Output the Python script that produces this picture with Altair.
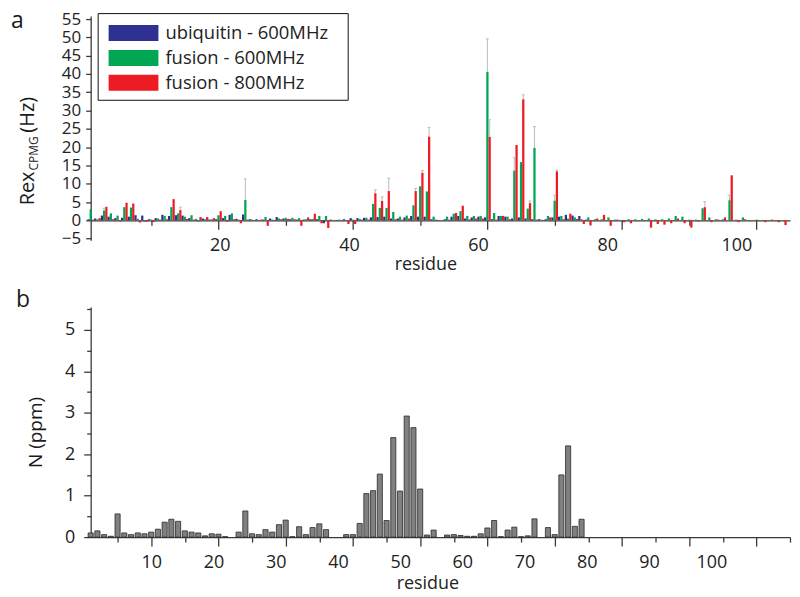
import altair as alt
import pandas as pd

FONT = "Open Sans"

series_names = ["ubiquitin - 600MHz", "fusion - 600MHz", "fusion - 800MHz"]
series_colors = ["#2E3192", "#00A651", "#ED1C24"]

residues_top = list(range(1, 105))
ubq_600 = [0.3, 0.5, 1.3, 1.0, 0.6, 0.7, 1.0, 1.4, 1.3, 0.3,
           0.6, 1.5, 1.2, 1.4, 1.3, 0.6, 0.3, 0.5, 0.2, 0.3,
           0.6, 1.5, 0.4, 1.6, 0.3, 0.3, 0.2, 0.5, 0.9, 0.5,
           0.3, 0.2, 0.2, 0.3, 0.3, -0.8, 0.2, 0.1, 0.3, 0.6,
           0.6, 0.7, 0.8, 0.9, 1.0, 0.5, 0.5, 0.8, 1.2, 1.0,
           1.0, 0.3, 0.1, 0.3, 1.0, 1.2, 0.5, 0.8, 1.0, 0.8,
           0.3, 1.2, 1.0, 0.5, 0.8, 0.5, 0.3, 0.3, 0.3, 0.8,
           1.0, 1.5, 1.3, 1.2, 0.2] + [None] * 29
fus_600 = [3.0, 0.3, 2.7, 1.9, 1.3, 3.6, 3.5, 0.4, -0.4, 0.2,
           0.5, 1.2, 3.6, 1.9, 1.0, 1.4, -0.4, 0.3, 0.3, 1.4,
           1.2, 1.9, 0.2, 5.6, 0.2, 0.1, 0.9, 0.2, 0.5, 0.7,
           0.7, 0.6, 0.3, 0.4, 1.2, 1.2, 0.1, 0.2, 0.1, 0.2,
           0.4, 0.7, 4.5, 3.4, 3.4, 2.3, 1.0, 1.3, 4.1, 9.3,
           7.9, 1.0, 0.1, 1.0, 1.8, 2.5, 1.2, 1.2, 1.2, 40.6,
           2.0, 1.2, 1.0, 13.6, 15.9, 3.2, 19.8, 0.2, 1.2, 5.4,
           1.2, 0.5, 0.8, 0.3, 0.8, 0.3, 0.3, 0.8, 0.2, 0.1,
           0.3, 0.3, 0.4, 0.5, 0.3, 0.3, 0.5, 1.2, 1.0, 0.2,
           0.2, 3.3, 0.8, 0.3, 0.3, 5.5, 0.2, 0.8, 0.1, 0.2,
           0.1, 0.1, 0.1, 0.1]
fus_800 = [0.2, 0.6, 3.7, 0.3, -0.3, 4.8, 4.6, -0.6, -0.4, -0.5,
           0.2, 0.3, 5.8, 2.8, 0.4, 0.2, 0.9, 0.9, 0.6, 2.5,
           -0.4, 0.3, -0.8, 0.2, 0.1, 0.2, -1.5, 0.1, 0.3, 0.4,
           0.3, -1.5, 0.8, 1.8, -0.8, -2.1, 0.1, 0.1, -1.0, -1.0,
           0.2, 0.2, 7.4, 5.3, 8.0, 0.3, 0.2, 0.5, 8.0, 13.0,
           22.9, 0.2, 0.1, 0.2, 2.0, 4.0, 0.3, 0.5, 0.5, 22.8,
           0.2, 1.2, 0.3, 20.6, 33.1, 4.7, 0.2, 0.1, 0.8, 13.4,
           0.3, 1.8, 0.4, -1.0, -1.4, 0.5, 1.5, -1.5, 0.2, -0.5,
           -0.8, 0.1, 0.1, -2.0, -1.0, -1.2, -0.8, 0.5, -0.8, -2.0,
           -0.3, 3.6, -0.5, 0.2, 0.8, 12.3, -0.5, 0.3, 0.1, 0.1,
           -0.5, 0.2, -0.5, -1.3]

# error bars (series index, residue, top of error bar)
err_series = [1, 2, 1, 2, 2, 2, 2, 2, 2, 1, 2, 1, 2, 2, 1, 1, 2, 2, 1]
err_residue = [3, 14, 24, 43, 44, 45, 49, 50, 51, 60, 60, 64, 65, 66, 67, 70, 70, 92, 96]
err_top = [3.3, 3.6, 11.3, 8.3, 6.4, 11.5, 8.7, 13.6, 25.4, 49.6, 27.5, 17.2, 34.3, 5.3, 25.6, 6.9, 13.7, 5.1, 6.9]

top_tick_values = list(range(10, 101, 10))
top_label_values = [20, 40, 60, 80, 100]
top_y_values = list(range(-5, 56, 5))

residues_bottom = list(range(1, 75))
n_shift = [0.10, 0.15, 0.06, 0.02, 0.56, 0.10, 0.06, 0.10, 0.08, 0.12,
           0.19, 0.36, 0.43, 0.38, 0.15, 0.12, 0.10, 0.03, 0.08, 0.07,
           0.01, None, 0.12, 0.63, 0.08, 0.06, 0.18, 0.12, 0.30, 0.41,
           0.01, 0.25, 0.06, 0.23, 0.32, 0.18, None, None, 0.06, 0.06,
           0.33, 1.05, 1.12, 1.52, 0.40, 2.40, 1.11, 2.92, 2.64, 1.16,
           0.05, 0.17, None, 0.05, 0.06, 0.04, 0.02, 0.02, 0.08, 0.22,
           0.40, 0.01, 0.17, 0.24, 0.01, 0.03, 0.44, None, 0.23, 0.06,
           1.50, 2.20, 0.26, 0.43]
bottom_tick_values = list(range(5, 106, 5))
bottom_label_values = list(range(10, 101, 10))
bottom_y_major = [0, 1, 2, 3, 4, 5]
bottom_y_minor = [0.5, 1.5, 2.5, 3.5, 4.5, 5.5]

# ---------- data tables ----------
all_series = [ubq_600, fus_600, fus_800]
GROUP = 0.333
HALF = 0.167
rows = []
for si, (name, vals) in enumerate(zip(series_names, all_series)):
    off = (si - 1) * GROUP
    for r, v in zip(residues_top, vals):
        if v is None:
            continue
        rows.append({"series": name, "residue": r, "value": v,
                     "x0": r + off - HALF, "x1": r + off + HALF})
top_df = pd.DataFrame(rows)

erows = []
for si, r, t in zip(err_series, err_residue, err_top):
    off = (si - 1) * GROUP
    v = all_series[si][r - 1]
    erows.append({"xc": r + off, "ca": r + off - 0.22, "cb": r + off + 0.22,
                  "v": v, "top": t})
err_df = pd.DataFrame(erows)

brows = []
for r, v in zip(residues_bottom, n_shift):
    if v is None:
        continue
    brows.append({"residue": r, "shift": v, "x0": r - 0.38, "x1": r + 0.38})
bottom_df = pd.DataFrame(brows)

# ---------- top panel ----------
x_top = alt.Scale(domain=[1, 105], nice=False, zero=False)
y_top = alt.Scale(domain=[-5.44, 55.82], nice=False, zero=False)

top_tick_axis = alt.Axis(
    values=top_tick_values, labels=False, title=None, grid=False, offset=-20,
    tickSize={"condition": {"test": "datum.value % 20 === 0", "value": 9}, "value": 5},
)
top_y_axis = alt.Axis(values=top_y_values, format="d", tickSize=5, labelPadding=5,
                      labelFontSize=17, title=None, grid=False,
                      labelOverlap=False, labelFlush=False)

legend = alt.Legend(
    title="\u00a0", titleOrient="right", titleFontSize=2, titlePadding=12,
    orient="none", legendX=7, legendY=-3,
    symbolType="M-0.72,-0.64L3.28,-0.64L3.28,0.64L-0.72,0.64Z",
    symbolSize=625, symbolStrokeWidth=0, symbolOpacity=1,
    labelFontSize=18.5, labelFont=FONT, labelColor="#222", labelOffset=35.5,
    padding=7.5, strokeColor="#111", fillColor="white", rowPadding=3, labelLimit=400,
)

bars = alt.Chart(top_df).mark_bar(strokeWidth=0).encode(
    x=alt.X("x0:Q", scale=x_top, axis=top_tick_axis),
    x2="x1:Q",
    y=alt.Y("value:Q", scale=y_top, axis=top_y_axis),
    y2=alt.datum(0),
    color=alt.Color("series:N", scale=alt.Scale(domain=series_names, range=series_colors),
                    legend=legend),
)

err_rules = alt.Chart(err_df).mark_rule(color="#b5b5b5", strokeWidth=0.9).encode(
    x=alt.X("xc:Q", scale=x_top, axis=top_tick_axis),
    y=alt.Y("v:Q", scale=y_top, axis=top_y_axis), y2="top:Q")
err_caps = alt.Chart(err_df).mark_rule(color="#b5b5b5", strokeWidth=0.9).encode(
    x=alt.X("ca:Q", scale=x_top, axis=top_tick_axis), x2="cb:Q",
    y=alt.Y("top:Q", scale=y_top, axis=top_y_axis))

def txt(s, x, y, size, angle=0, baseline="alphabetic", align="left"):
    return alt.Chart(pd.DataFrame({"t": [s]})).mark_text(
        align=align, baseline=baseline, fontSize=size, font=FONT, color="#1a1a1a",
        angle=angle,
    ).encode(x=alt.value(x), y=alt.value(y), text="t:N")

top_inner = alt.layer(
    bars, err_rules, err_caps,
    txt("a", -80, 12, 23),
    txt("Rex", -57, 190, 20, angle=270),
    txt("CPMG", -53, 155, 12, angle=270),
    txt("(Hz)", -57, 117, 20, angle=270),
)

top_labels = alt.Chart(pd.DataFrame({"lab": top_label_values})).mark_point(opacity=0).encode(
    x=alt.X("lab:Q", scale=alt.Scale(domain=[0, 108.3], nice=False, zero=False),
            axis=alt.Axis(values=top_label_values, format="d", ticks=False, tickSize=0,
                          domain=False, grid=False, labelPadding=16, offset=-20,
                          labelFlush=False, labelOverlap=False,
                          title="residue", titlePadding=1, titleX=336, orient="bottom")),
    y=alt.value(0),
)

top = alt.layer(top_inner, top_labels).resolve_scale(x="independent").properties(
    width=702, height=225)

# ---------- bottom panel ----------
x_bot = alt.Scale(domain=[1, 105], nice=False, zero=False)
y_bot = alt.Scale(domain=[0, 5.55], nice=False, zero=False)

bot_bars = alt.Chart(bottom_df).mark_bar(color="#808080", stroke="#2a2a2a", strokeWidth=0.8).encode(
    x=alt.X("x0:Q", scale=x_bot, axis=alt.Axis(
        values=bottom_tick_values, labels=False, title=None, grid=False,
        tickSize={"condition": {"test": "datum.value % 10 === 0", "value": 9}, "value": 5})),
    x2="x1:Q",
    y=alt.Y("shift:Q", scale=y_bot, axis=alt.Axis(
        values=bottom_y_major, format="d", tickSize=7, labelPadding=9,
        grid=False, labelOverlap=False, labelFlush=False, title=None)),
    y2=alt.datum(0),
)

bot_minor = alt.Chart(pd.DataFrame({"m": bottom_y_minor})).mark_point(opacity=0).encode(
    y=alt.Y("m:Q", scale=y_bot, axis=alt.Axis(
        values=bottom_y_minor, labels=False, tickSize=4, domain=False, grid=False,
        title=None, orient="left")),
    x=alt.value(0),
)

bot_inner = alt.layer(
    bot_bars, bot_minor,
    txt("b", -75, 0, 23),
    txt("N (ppm)", -49, 126, 19, angle=270, align="center"),
).resolve_axis(y="independent")

bot_labels = alt.Chart(pd.DataFrame({"lab": bottom_label_values})).mark_point(opacity=0).encode(
    x=alt.X("lab:Q", scale=alt.Scale(domain=[0.27, 112.65], nice=False, zero=False),
            axis=alt.Axis(values=bottom_label_values, format="d", ticks=False, tickSize=0,
                          domain=False, grid=False, labelPadding=17,
                          labelFlush=False, labelOverlap=False,
                          title="residue", titlePadding=3, titleX=338, orient="bottom")),
    y=alt.value(0),
)

bottom = alt.layer(bot_inner, bot_labels).resolve_scale(x="independent").properties(
    width=702, height=231)

chart = alt.vconcat(top, bottom, spacing=67, bounds="flush").properties(
    padding={"left": 2, "top": 0, "right": 0, "bottom": 0}
).configure_view(stroke="transparent").configure_axis(
    labelFont=FONT, titleFont=FONT, labelFontSize=18, titleFontSize=18,
    labelColor="#222", titleColor="#222", titleFontWeight="normal",
    domainColor="#3a3a3a", tickColor="#3a3a3a", domainWidth=1.3, tickWidth=1.3,
    labelOverlap=False,
)

chart.save("out.html", embed_options={"renderer": "svg", "actions": False})
